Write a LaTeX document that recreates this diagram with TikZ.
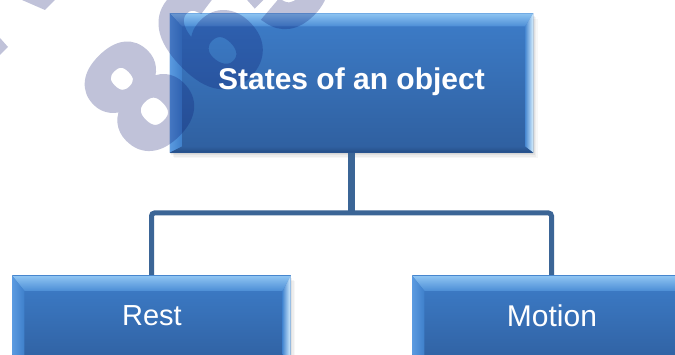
\documentclass[tikz,border=0pt]{standalone}
\usepackage{fontspec}
\setmainfont{Liberation Sans}
\newfontfamily\wmfont[FakeBold=5]{Liberation Sans Bold}
\definecolor{boxtop}{HTML}{3D7DC9}
\definecolor{boxbot}{HTML}{2F5F9F}
\definecolor{bevTopA}{HTML}{8EC4F2}
\definecolor{bevTopB}{HTML}{4C8ED6}
\definecolor{bevLeftA}{HTML}{5A9AE0}
\definecolor{bevLeftB}{HTML}{3F80CB}
\definecolor{bevRightA}{HTML}{4A8AD2}
\definecolor{bevRightB}{HTML}{D8F0FF}
\definecolor{bevBotA}{HTML}{2F5F9F}
\definecolor{bevBotB}{HTML}{244C84}
\definecolor{conncol}{HTML}{3B6596}
\definecolor{wmcol}{RGB}{5,15,105}
\newcommand\bevelfor[5]{% name, top, left, right, bottom
  \shade[top color=bevTopA,bottom color=bevTopB]
    (#1.north west) -- (#1.north east) -- ([shift={(-#4,#2)}]#1.north east) -- ([shift={(#3,#2)}]#1.north west) -- cycle;
  \shade[left color=bevLeftA,right color=bevLeftB]
    (#1.north west) -- ([shift={(#3,#2)}]#1.north west) -- ([shift={(#3,-#5)}]#1.south west) -- (#1.south west) -- cycle;
  \shade[left color=bevRightA,right color=bevRightB]
    (#1.north east) -- ([shift={(-#4,#2)}]#1.north east) -- ([shift={(-#4,-#5)}]#1.south east) -- (#1.south east) -- cycle;
  \shade[top color=bevBotA,bottom color=bevBotB]
    (#1.south west) -- ([shift={(#3,-#5)}]#1.south west) -- ([shift={(-#4,-#5)}]#1.south east) -- (#1.south east) -- cycle;
}
\begin{document}
\begin{tikzpicture}[x=1pt,y=-1pt,
  boxstyle/.style={rectangle, inner sep=0pt, draw=none, top color=boxtop, bottom color=boxbot},
  labelstyle/.style={text=white, inner sep=0pt, font=\fontsize{29}{34}\selectfont},
  conn/.style={draw=conncol, line width=5pt},
  wmdigit/.style={rotate=45, inner sep=0pt, text=wmcol, font=\fontsize{150}{150}\wmfont},
  wm/.style={fill=wmcol, draw=none}]
\useasboundingbox (0,0) rectangle (675,355);
\fill[white] (0,0) rectangle (675,355);
\coordinate (j) at (351.5,213);
\node[boxstyle, minimum width=363pt, minimum height=139pt] (top) at (351.5,83) {};
\node[boxstyle, minimum width=278pt, minimum height=92pt] (rest) at (151.5,322) {};
\node[boxstyle, minimum width=278pt, minimum height=92pt] (motion) at (551.5,322) {};
% shadows
\foreach \o/\a in {1/0.05,2.5/0.05,4/0.04,5.5/0.03}{
  \fill[black, opacity=\a] ([shift={(\o-1,\o)}]top.north west) rectangle ([shift={(\o-1,\o)}]top.south east);
  \fill[black, opacity=\a] ([shift={(\o-1,\o)}]rest.north west) rectangle ([shift={(\o-1,\o)}]rest.south east);
  \fill[black, opacity=\a] ([shift={(\o-1,\o)}]motion.north west) rectangle ([shift={(\o-1,\o)}]motion.south east);
}
% connectors
\draw[conn, line width=7pt] (top.south) -- (j);
\draw[conn, rounded corners=3pt] (rest.north) -- (rest.north |- j) -- (motion.north |- j) -- (motion.north);
% boxes redrawn over shadows
\shade[top color=boxtop, bottom color=boxbot] (top.north west) rectangle (top.south east);
\shade[top color=boxtop, bottom color=boxbot] (rest.north west) rectangle (rest.south east);
\shade[top color=boxtop, bottom color=boxbot] (motion.north west) rectangle (motion.south east);
\bevelfor{top}{13}{12}{8}{6}
\bevelfor{rest}{15}{12}{8}{6}
\bevelfor{motion}{15}{12}{8}{6}
% watermark
\begin{scope}[transparency group, opacity=0.25]
\node[wmdigit] (wm8) at (139,96) {8};
\node[wmdigit] (wm6) at (209,38) {6};
\node[wmdigit] (wm5) at (275,-25) {5};
\fill[wm] (22,0) -- (55,0) -- (45,10) -- cycle;
\fill[wm] (0,38) -- (8,47) -- (0,55) -- cycle;
\end{scope}
% labels
\node[labelstyle, font=\fontsize{30}{36}\selectfont\bfseries] (toplabel) at (351.5,82) {States of an object};
\node[labelstyle] (restlabel) at (152,316) {Rest};
\node[labelstyle, font=\fontsize{30}{36}\selectfont] (motionlabel) at (552,316) {Motion};
\end{tikzpicture}
\end{document}
